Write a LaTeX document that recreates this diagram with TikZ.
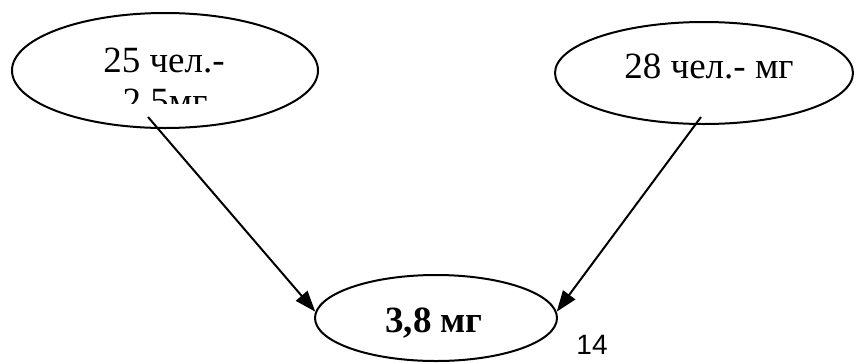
\documentclass[tikz,border=0pt]{standalone}
\usepackage{fontspec}
\setmainfont{Liberation Serif}
\newfontfamily\pgnum{Liberation Sans}
\usetikzlibrary{shapes.geometric,arrows.meta}
\begin{document}
\begin{tikzpicture}[x=1pt,y=-1pt,
  oval/.style={ellipse,draw,line width=2pt,inner sep=0pt},
  lbl/.style={inner sep=0pt,anchor=base,font=\fontsize{37}{42}\selectfont},
  arr/.style={line width=2pt,-{Triangle[length=21pt,width=15pt]}}]
\useasboundingbox (0,0) rectangle (856,362);
\node[oval,minimum width=306pt,minimum height=115pt] (L) at (165,70.5) {};
\node[oval,minimum width=298pt,minimum height=102pt] (R) at (704,73) {};
\node[oval,minimum width=242pt,minimum height=86pt] (B) at (436,318) {};
\begin{scope}
  \clip (60,20) rectangle (300,103);
  \node[lbl] (l1) at (164,72) {25 чел.-};
  \node[lbl] (l2) at (165,113) {2,5мг};
\end{scope}
\node[lbl] (r1) at (709,78) {28 чел.- мг};
\node[lbl,font=\fontsize{37}{42}\selectfont\bfseries] (b1) at (434,332) {3,8 мг};
\node[inner sep=0pt,anchor=base,font=\pgnum\fontsize{28}{32}\selectfont] (pg) at (592,354) {14};
\coordinate (ls) at (148,117);
\coordinate (rs) at (701,117);
\draw[arr] (ls) -- (B.177);
\draw[arr] (rs) -- (B.3);
\end{tikzpicture}
\end{document}
